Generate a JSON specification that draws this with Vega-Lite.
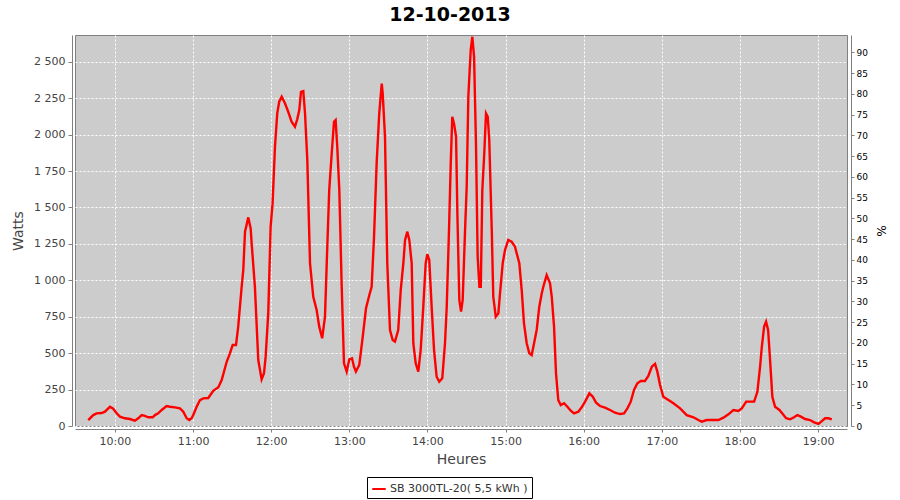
{
  "$schema": "https://vega.github.io/schema/vega-lite/v6.json",
  "autosize": "none",
  "width": 772,
  "height": 391,
  "padding": {"left": 75, "top": 35, "right": 53, "bottom": 74},
  "background": "#ffffff",
  "title": {"text": "12-10-2013", "fontSize": 19, "fontWeight": "bold", "color": "#000000", "anchor": "middle", "frame": "group", "offset": 7, "dx": -11, "font": "DejaVu Sans"},
  "config": {
    "font": "DejaVu Sans",
    "view": {"fill": "#cccccc", "stroke": "#808080", "strokeWidth": 1}
  },
  "datasets": {
    "pv": [
    {"t":"2013-10-12T09:39:30","w":41},{"t":"2013-10-12T09:43:20","w":75},{"t":"2013-10-12T09:45:55","w":87},{"t":"2013-10-12T09:49:50","w":89},
    {"t":"2013-10-12T09:52:20","w":98},{"t":"2013-10-12T09:54:55","w":121},{"t":"2013-10-12T09:56:10","w":132},{"t":"2013-10-12T09:58:40","w":119},
    {"t":"2013-10-12T10:01:20","w":87},{"t":"2013-10-12T10:03:50","w":64},{"t":"2013-10-12T10:07:40","w":53},{"t":"2013-10-12T10:11:30","w":48},
    {"t":"2013-10-12T10:15:20","w":36},{"t":"2013-10-12T10:17:55","w":53},{"t":"2013-10-12T10:20:30","w":75},{"t":"2013-10-12T10:23:00","w":69},
    {"t":"2013-10-12T10:25:35","w":60},{"t":"2013-10-12T10:29:00","w":60},{"t":"2013-10-12T10:30:45","w":75},{"t":"2013-10-12T10:33:15","w":87},
    {"t":"2013-10-12T10:35:55","w":110},{"t":"2013-10-12T10:39:40","w":137},{"t":"2013-10-12T10:42:15","w":132},{"t":"2013-10-12T10:46:05","w":128},
    {"t":"2013-10-12T10:49:55","w":121},{"t":"2013-10-12T10:52:30","w":98},{"t":"2013-10-12T10:55:05","w":53},{"t":"2013-10-12T10:57:05","w":41},
    {"t":"2013-10-12T10:58:55","w":53},{"t":"2013-10-12T11:00:10","w":75},{"t":"2013-10-12T11:02:45","w":132},{"t":"2013-10-12T11:05:20","w":178},
    {"t":"2013-10-12T11:07:50","w":190},{"t":"2013-10-12T11:11:40","w":192},{"t":"2013-10-12T11:15:30","w":242},{"t":"2013-10-12T11:19:25","w":266},
    {"t":"2013-10-12T11:22:00","w":316},{"t":"2013-10-12T11:25:50","w":441},{"t":"2013-10-12T11:28:20","w":499},{"t":"2013-10-12T11:30:25","w":556},
    {"t":"2013-10-12T11:33:00","w":556},{"t":"2013-10-12T11:34:40","w":680},{"t":"2013-10-12T11:37:20","w":956},{"t":"2013-10-12T11:38:35","w":1071},
    {"t":"2013-10-12T11:39:55","w":1334},{"t":"2013-10-12T11:42:25","w":1432},{"t":"2013-10-12T11:44:15","w":1357},{"t":"2013-10-12T11:45:00","w":1254},
    {"t":"2013-10-12T11:47:30","w":956},{"t":"2013-10-12T11:50:05","w":453},{"t":"2013-10-12T11:52:40","w":320},{"t":"2013-10-12T11:54:30","w":362},
    {"t":"2013-10-12T11:55:45","w":476},{"t":"2013-10-12T11:57:45","w":773},{"t":"2013-10-12T11:59:35","w":1368},{"t":"2013-10-12T12:01:05","w":1528},
    {"t":"2013-10-12T12:02:55","w":1917},{"t":"2013-10-12T12:04:40","w":2146},{"t":"2013-10-12T12:06:10","w":2226},{"t":"2013-10-12T12:08:05","w":2260},
    {"t":"2013-10-12T12:10:35","w":2215},{"t":"2013-10-12T12:13:05","w":2157},{"t":"2013-10-12T12:15:40","w":2089},{"t":"2013-10-12T12:18:15","w":2054},
    {"t":"2013-10-12T12:20:00","w":2105},{"t":"2013-10-12T12:21:35","w":2169},{"t":"2013-10-12T12:22:55","w":2294},{"t":"2013-10-12T12:24:40","w":2299},
    {"t":"2013-10-12T12:26:00","w":2146},{"t":"2013-10-12T12:27:45","w":1826},{"t":"2013-10-12T12:29:50","w":1117},{"t":"2013-10-12T12:32:20","w":887},
    {"t":"2013-10-12T12:34:55","w":796},{"t":"2013-10-12T12:36:55","w":682},{"t":"2013-10-12T12:39:10","w":602},{"t":"2013-10-12T12:41:20","w":750},
    {"t":"2013-10-12T12:42:35","w":1093},{"t":"2013-10-12T12:44:35","w":1620},{"t":"2013-10-12T12:46:30","w":1872},{"t":"2013-10-12T12:48:15","w":2089},
    {"t":"2013-10-12T12:49:30","w":2100},{"t":"2013-10-12T12:50:45","w":1917},{"t":"2013-10-12T12:52:20","w":1620},{"t":"2013-10-12T12:54:10","w":956},
    {"t":"2013-10-12T12:55:55","w":430},{"t":"2013-10-12T12:58:00","w":373},{"t":"2013-10-12T13:00:00","w":458},{"t":"2013-10-12T13:02:05","w":465},
    {"t":"2013-10-12T13:03:35","w":407},{"t":"2013-10-12T13:05:05","w":373},{"t":"2013-10-12T13:07:40","w":419},{"t":"2013-10-12T13:10:20","w":613},
    {"t":"2013-10-12T13:12:50","w":808},{"t":"2013-10-12T13:15:25","w":899},{"t":"2013-10-12T13:17:10","w":956},{"t":"2013-10-12T13:19:00","w":1299},
    {"t":"2013-10-12T13:21:00","w":1803},{"t":"2013-10-12T13:23:00","w":2146},{"t":"2013-10-12T13:24:55","w":2350},{"t":"2013-10-12T13:25:40","w":2283},
    {"t":"2013-10-12T13:27:25","w":1986},{"t":"2013-10-12T13:29:10","w":1117},{"t":"2013-10-12T13:31:15","w":659},{"t":"2013-10-12T13:33:20","w":590},
    {"t":"2013-10-12T13:35:05","w":579},{"t":"2013-10-12T13:37:35","w":659},{"t":"2013-10-12T13:39:30","w":933},{"t":"2013-10-12T13:41:30","w":1117},
    {"t":"2013-10-12T13:42:50","w":1277},{"t":"2013-10-12T13:44:35","w":1334},{"t":"2013-10-12T13:46:05","w":1277},{"t":"2013-10-12T13:47:55","w":1117},
    {"t":"2013-10-12T13:49:10","w":568},{"t":"2013-10-12T13:51:00","w":430},{"t":"2013-10-12T13:53:00","w":373},{"t":"2013-10-12T13:54:50","w":522},
    {"t":"2013-10-12T13:56:50","w":819},{"t":"2013-10-12T13:58:40","w":1117},{"t":"2013-10-12T13:59:55","w":1180},{"t":"2013-10-12T14:01:25","w":1139},
    {"t":"2013-10-12T14:03:15","w":819},{"t":"2013-10-12T14:05:05","w":522},{"t":"2013-10-12T14:07:05","w":338},{"t":"2013-10-12T14:09:05","w":304},
    {"t":"2013-10-12T14:11:25","w":327},{"t":"2013-10-12T14:13:30","w":568},{"t":"2013-10-12T14:14:50","w":819},{"t":"2013-10-12T14:16:35","w":1345},
    {"t":"2013-10-12T14:17:55","w":1803},{"t":"2013-10-12T14:19:05","w":2123},{"t":"2013-10-12T14:20:25","w":2077},{"t":"2013-10-12T14:22:00","w":1986},
    {"t":"2013-10-12T14:23:00","w":1460},{"t":"2013-10-12T14:24:30","w":865},{"t":"2013-10-12T14:25:50","w":785},{"t":"2013-10-12T14:27:05","w":865},
    {"t":"2013-10-12T14:28:55","w":1345},{"t":"2013-10-12T14:30:10","w":1642},{"t":"2013-10-12T14:31:25","w":2260},{"t":"2013-10-12T14:33:15","w":2581},
    {"t":"2013-10-12T14:34:30","w":2672},{"t":"2013-10-12T14:35:50","w":2535},{"t":"2013-10-12T14:37:20","w":1917},{"t":"2013-10-12T14:38:35","w":1162},
    {"t":"2013-10-12T14:39:55","w":956},{"t":"2013-10-12T14:41:00","w":956},{"t":"2013-10-12T14:42:10","w":1620},{"t":"2013-10-12T14:43:40","w":1872},
    {"t":"2013-10-12T14:45:00","w":2146},{"t":"2013-10-12T14:46:20","w":2123},{"t":"2013-10-12T14:47:30","w":1963},{"t":"2013-10-12T14:49:25","w":1345},
    {"t":"2013-10-12T14:50:35","w":887},{"t":"2013-10-12T14:52:30","w":750},{"t":"2013-10-12T14:54:30","w":773},{"t":"2013-10-12T14:55:45","w":911},
    {"t":"2013-10-12T14:57:50","w":1117},{"t":"2013-10-12T14:59:35","w":1208},{"t":"2013-10-12T15:02:05","w":1277},{"t":"2013-10-12T15:04:40","w":1265},
    {"t":"2013-10-12T15:07:15","w":1231},{"t":"2013-10-12T15:10:35","w":1117},{"t":"2013-10-12T15:12:25","w":933},{"t":"2013-10-12T15:14:10","w":705},
    {"t":"2013-10-12T15:16:15","w":568},{"t":"2013-10-12T15:18:15","w":499},{"t":"2013-10-12T15:20:05","w":487},{"t":"2013-10-12T15:21:55","w":568},
    {"t":"2013-10-12T15:23:55","w":659},{"t":"2013-10-12T15:25:55","w":819},{"t":"2013-10-12T15:27:50","w":911},{"t":"2013-10-12T15:29:00","w":956},
    {"t":"2013-10-12T15:31:35","w":1036},{"t":"2013-10-12T15:34:10","w":979},{"t":"2013-10-12T15:35:30","w":887},{"t":"2013-10-12T15:37:15","w":682},
    {"t":"2013-10-12T15:38:45","w":362},{"t":"2013-10-12T15:40:30","w":178},{"t":"2013-10-12T15:42:25","w":144},{"t":"2013-10-12T15:44:55","w":156},
    {"t":"2013-10-12T15:47:30","w":132},{"t":"2013-10-12T15:50:05","w":105},{"t":"2013-10-12T15:52:35","w":87},{"t":"2013-10-12T15:55:55","w":98},
    {"t":"2013-10-12T15:58:30","w":128},{"t":"2013-10-12T16:01:05","w":167},{"t":"2013-10-12T16:04:25","w":224},{"t":"2013-10-12T16:07:00","w":201},
    {"t":"2013-10-12T16:09:30","w":160},{"t":"2013-10-12T16:12:35","w":137},{"t":"2013-10-12T16:16:25","w":126},{"t":"2013-10-12T16:20:15","w":110},
    {"t":"2013-10-12T16:24:05","w":91},{"t":"2013-10-12T16:27:55","w":82},{"t":"2013-10-12T16:31:00","w":87},{"t":"2013-10-12T16:33:35","w":121},
    {"t":"2013-10-12T16:36:10","w":167},{"t":"2013-10-12T16:38:40","w":247},{"t":"2013-10-12T16:41:15","w":293},{"t":"2013-10-12T16:43:50","w":309},
    {"t":"2013-10-12T16:47:05","w":309},{"t":"2013-10-12T16:49:40","w":343},{"t":"2013-10-12T16:52:20","w":407},{"t":"2013-10-12T16:54:50","w":426},
    {"t":"2013-10-12T16:56:35","w":373},{"t":"2013-10-12T16:58:40","w":281},{"t":"2013-10-12T17:01:10","w":201},{"t":"2013-10-12T17:05:05","w":178},
    {"t":"2013-10-12T17:08:55","w":156},{"t":"2013-10-12T17:14:05","w":121},{"t":"2013-10-12T17:19:10","w":75},{"t":"2013-10-12T17:24:20","w":60},
    {"t":"2013-10-12T17:28:05","w":41},{"t":"2013-10-12T17:30:40","w":30},{"t":"2013-10-12T17:34:30","w":41},{"t":"2013-10-12T17:39:35","w":41},
    {"t":"2013-10-12T17:43:30","w":41},{"t":"2013-10-12T17:47:20","w":57},{"t":"2013-10-12T17:51:10","w":80},{"t":"2013-10-12T17:55:00","w":110},
    {"t":"2013-10-12T17:58:50","w":103},{"t":"2013-10-12T18:01:25","w":121},{"t":"2013-10-12T18:04:50","w":167},{"t":"2013-10-12T18:08:25","w":167},
    {"t":"2013-10-12T18:10:55","w":167},{"t":"2013-10-12T18:13:25","w":235},{"t":"2013-10-12T18:15:30","w":407},{"t":"2013-10-12T18:16:50","w":544},
    {"t":"2013-10-12T18:18:35","w":682},{"t":"2013-10-12T18:20:05","w":716},{"t":"2013-10-12T18:21:40","w":659},{"t":"2013-10-12T18:23:10","w":453},
    {"t":"2013-10-12T18:24:55","w":201},{"t":"2013-10-12T18:27:00","w":132},{"t":"2013-10-12T18:30:20","w":110},{"t":"2013-10-12T18:32:55","w":82},
    {"t":"2013-10-12T18:35:30","w":53},{"t":"2013-10-12T18:38:35","w":46},{"t":"2013-10-12T18:41:35","w":60},{"t":"2013-10-12T18:44:05","w":75},
    {"t":"2013-10-12T18:46:50","w":64},{"t":"2013-10-12T18:50:05","w":48},{"t":"2013-10-12T18:53:55","w":41},{"t":"2013-10-12T18:57:00","w":25},
    {"t":"2013-10-12T19:00:20","w":14},{"t":"2013-10-12T19:02:55","w":34},{"t":"2013-10-12T19:05:25","w":53},{"t":"2013-10-12T19:08:00","w":53},
    {"t":"2013-10-12T19:10:35","w":46}
    ],
    "pct": [{"p": 0}]
  },
  "layer": [
    {
      "data": {"name": "pv"},
      "mark": {"type": "line", "strokeWidth": 2.4, "interpolate": "linear"},
      "encoding": {
        "x": {
          "field": "t", "type": "temporal",
          "scale": {"domain": [
            {"year": 2013, "month": 10, "date": 12, "hours": 9, "minutes": 29, "seconds": 20},
            {"year": 2013, "month": 10, "date": 12, "hours": 19, "minutes": 22, "seconds": 15}
          ], "nice": false},
          "axis": {
            "title": "Heures", "titleFontSize": 14, "titleFontWeight": "normal", "titleColor": "#444444", "titlePadding": 6,
            "format": "%H:%M", "tickCount": 10,
            "labelFontSize": 11, "labelColor": "#444444", "labelPadding": 3,
            "tickSize": 3, "tickColor": "#808080", "domainColor": "#808080", "offset": 3,
            "grid": true, "gridColor": "#ffffff", "gridDash": [2, 2], "gridWidth": 1
          }
        },
        "y": {
          "field": "w", "type": "quantitative",
          "scale": {"domain": [0, 2684], "nice": false},
          "axis": {
            "title": "Watts", "titleFontSize": 14, "titleFontWeight": "normal", "titleColor": "#444444", "titlePadding": 8,
            "values": [0, 250, 500, 750, 1000, 1250, 1500, 1750, 2000, 2250, 2500],
            "labelExpr": "datum.value >= 1000 ? floor(datum.value / 1000) + ' ' + format(datum.value % 1000, '03d') : format(datum.value, 'd')",
            "labelFontSize": 11, "labelColor": "#444444", "labelPadding": 3,
            "tickSize": 4, "tickColor": "#808080", "domainColor": "#808080", "offset": 3,
            "grid": true, "gridColor": "#ffffff", "gridDash": [2, 2], "gridWidth": 1
          }
        },
        "color": {
          "datum": "SB 3000TL-20( 5,5 kWh )",
          "scale": {"range": ["#ff0000"]},
          "legend": {
            "title": null, "orient": "none", "legendX": 292, "legendY": 442,
            "symbolType": "stroke", "symbolStrokeWidth": 2, "symbolSize": 180,
            "labelFontSize": 11, "labelColor": "#333333", "labelOffset": 3,
            "strokeColor": "#000000", "fillColor": "#ffffff", "padding": 4
          }
        }
      }
    },
    {
      "data": {"name": "pct"},
      "mark": {"type": "point", "opacity": 0},
      "encoding": {
        "y": {
          "field": "p", "type": "quantitative",
          "scale": {"domain": [0, 94.2], "nice": false},
          "axis": {
            "orient": "right", "title": "%", "titleFontSize": 12, "titleFontWeight": "normal", "titleColor": "#000000",
            "values": [0, 5, 10, 15, 20, 25, 30, 35, 40, 45, 50, 55, 60, 65, 70, 75, 80, 85, 90],
            "labelFontSize": 9, "labelColor": "#000000", "labelPadding": 2,
            "tickSize": 3, "tickColor": "#808080", "domainColor": "#808080", "offset": 4, "grid": false, "titlePadding": 6
          }
        }
      }
    }
  ],
  "resolve": {"scale": {"y": "independent"}, "axis": {"y": "independent"}}
}
